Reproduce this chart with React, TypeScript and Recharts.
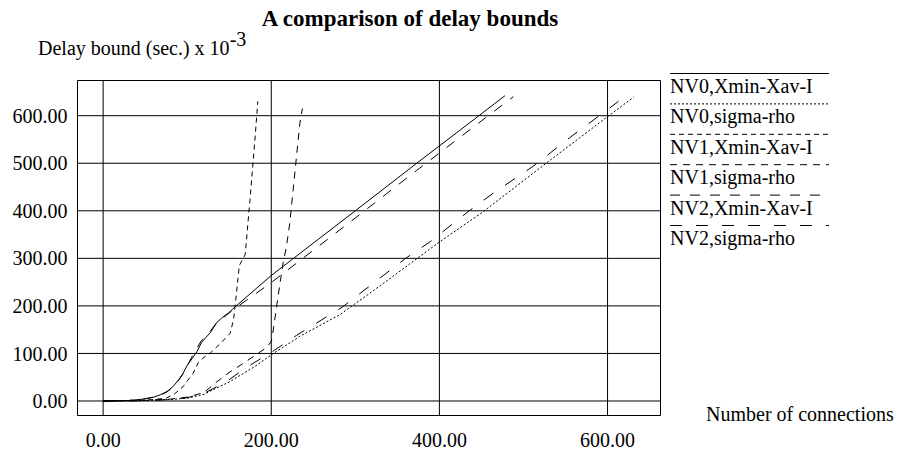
import React from "react";
import { LineChart, Line, XAxis, YAxis, CartesianGrid, ReferenceArea, Legend } from "recharts";

const xTicks = [0, 200, 400, 600];
const yTicks = [0, 100, 200, 300, 400, 500, 600];

const nv0XminX = [0, 30, 48, 60, 68, 76, 83, 90, 95, 100, 107, 112, 117, 122, 128, 135, 142, 149, 157, 200, 250, 300, 373, 447, 478];
const nv0XminY = [0, 1, 4, 8, 13, 20, 30, 45, 58, 75, 92, 105, 123, 133, 145, 165, 176, 185, 198, 264, 332, 400, 500, 600, 642];

const nv0SigX = [0, 40, 80, 100, 120, 131, 150, 163, 180, 200, 234, 282, 330, 399, 452, 527, 600, 631];
const nv0SigY = [0, 0.5, 3, 6, 14, 24, 40, 54, 72, 97, 136, 182, 243, 333, 398, 500, 598, 639];

const nv1XminX = [0, 40, 60, 75, 85, 95, 100, 107, 113, 120, 127, 140, 151, 155, 157, 162, 169, 174.5, 178.5, 181, 184];
const nv1XminY = [0, 1, 3, 6, 15, 30, 42, 58, 80, 92, 100, 122, 142, 170, 200, 285, 308, 420, 505, 560, 630];

const nv1SigX = [0, 50, 80, 100, 120, 135, 150, 170, 194, 200, 202, 208, 214, 218, 222, 226, 230, 234, 237];
const nv1SigY = [0, 1, 4, 8, 18, 40, 60, 83, 112, 125, 145, 219, 290, 324, 374, 444, 514, 584, 615];

const nv2XminX = [0, 30, 48, 60, 68, 76, 83, 90, 95, 100, 106, 111, 117, 122, 127, 135, 142, 149, 157, 200, 250, 300, 373, 447, 488];
const nv2XminY = [0, 1, 4, 8, 12, 19, 29, 44, 57, 74, 94, 110, 127, 136, 146, 164, 174, 184, 195, 249, 317, 385, 485, 585, 640];

const nv2SigX = [0, 40, 80, 100, 120, 135, 150, 170, 204, 230, 285, 359, 389, 434, 464, 511, 559, 613];
const nv2SigY = [0, 0.5, 3, 7, 16, 30, 45, 70, 107, 138, 198, 299, 335, 398, 437, 493, 559, 630];

const seriesNames = [
  "NV0,Xmin-Xav-I",
  "NV0,sigma-rho",
  "NV1,Xmin-Xav-I",
  "NV1,sigma-rho",
  "NV2,Xmin-Xav-I",
  "NV2,sigma-rho",
];
const seriesX = [nv0XminX, nv0SigX, nv1XminX, nv1SigX, nv2XminX, nv2SigX];
const seriesY = [nv0XminY, nv0SigY, nv1XminY, nv1SigY, nv2XminY, nv2SigY];
const dashes = [undefined, "2 2", "5 4", "7 6", "10 10", "12 14"];

const FONT = "Liberation Serif, Times New Roman, DejaVu Serif, serif";

const series = seriesNames.map((name, i) => ({
  name,
  dash: dashes[i],
  data: seriesX[i].map((x, j) => ({ x, y: seriesY[i][j] })),
}));

const textStyle = { fontFamily: FONT };

const renderLegend = () => (
  <svg width={243} height={200} style={{ display: "block" }}>
    {series.map((s, i) => {
      const ly = 13.5 + 30.4 * i;
      return (
        <g key={s.name}>
          <line x1={10} x2={169} y1={ly} y2={ly} stroke="#000" strokeWidth={1} strokeDasharray={s.dash} />
          <text x={10} y={ly + 19.5} style={textStyle} fontSize={20} fill="#000">
            {s.name}
          </text>
        </g>
      );
    })}
  </svg>
);

export default function App() {
  return (
    <div style={{ position: "absolute", left: 0, top: 0, width: 903, height: 453, background: "#fff" }}>
      <LineChart
        width={903}
        height={453}
        margin={{ top: 80.5, right: 242.5, bottom: 0, left: 0 }}
      >
        <CartesianGrid stroke="#000" strokeWidth={1} horizontalValues={yTicks} verticalValues={xTicks} />
        <XAxis
          type="number"
          dataKey="x"
          domain={[-30.5, 663]}
          ticks={xTicks}
          allowDataOverflow
          height={37.5}
          axisLine={false}
          tickLine={false}
          tickMargin={11}
          tickFormatter={(v: number) => v.toFixed(2)}
          tick={{ fontFamily: FONT, style: textStyle, fontSize: 20, fill: "#000" }}
        />
        <YAxis
          type="number"
          domain={[-30.5, 674]}
          ticks={yTicks}
          allowDataOverflow
          width={77.5}
          axisLine={false}
          tickLine={false}
          tickMargin={4}
          tickFormatter={(v: number) => v.toFixed(2)}
          tick={{ fontFamily: FONT, style: textStyle, fontSize: 20, fill: "#000" }}
        />
        <ReferenceArea x1={-30.5} x2={663} y1={-30.5} y2={674} fill="none" stroke="#000" strokeWidth={1} />
        {series.map((s) => (
          <Line
            key={s.name}
            name={s.name}
            data={s.data}
            dataKey="y"
            type="linear"
            stroke="#000"
            strokeWidth={1}
            strokeDasharray={s.dash}
            dot={false}
            activeDot={false}
            isAnimationActive={false}
          />
        ))}
        <Legend
          layout="vertical"
          align="center"
          verticalAlign="middle"
          content={renderLegend}
          wrapperStyle={{ left: 660, top: 60, width: 243 }}
        />
      </LineChart>
      <svg
        width={903}
        height={453}
        style={{ position: "absolute", left: 0, top: 0, pointerEvents: "none" }}
      >
        <text x={410} y={26} textAnchor="middle" style={textStyle} fontSize={23} fontWeight="bold" fill="#000">
          A comparison of delay bounds
        </text>
        <text x={38} y={55} style={textStyle} fontSize={20} fill="#000">
          Delay bound (sec.) x 10<tspan dy={-9}>-3</tspan>
        </text>
        <text x={706} y={421} style={textStyle} fontSize={20} fill="#000">
          Number of connections
        </text>
      </svg>
    </div>
  );
}
